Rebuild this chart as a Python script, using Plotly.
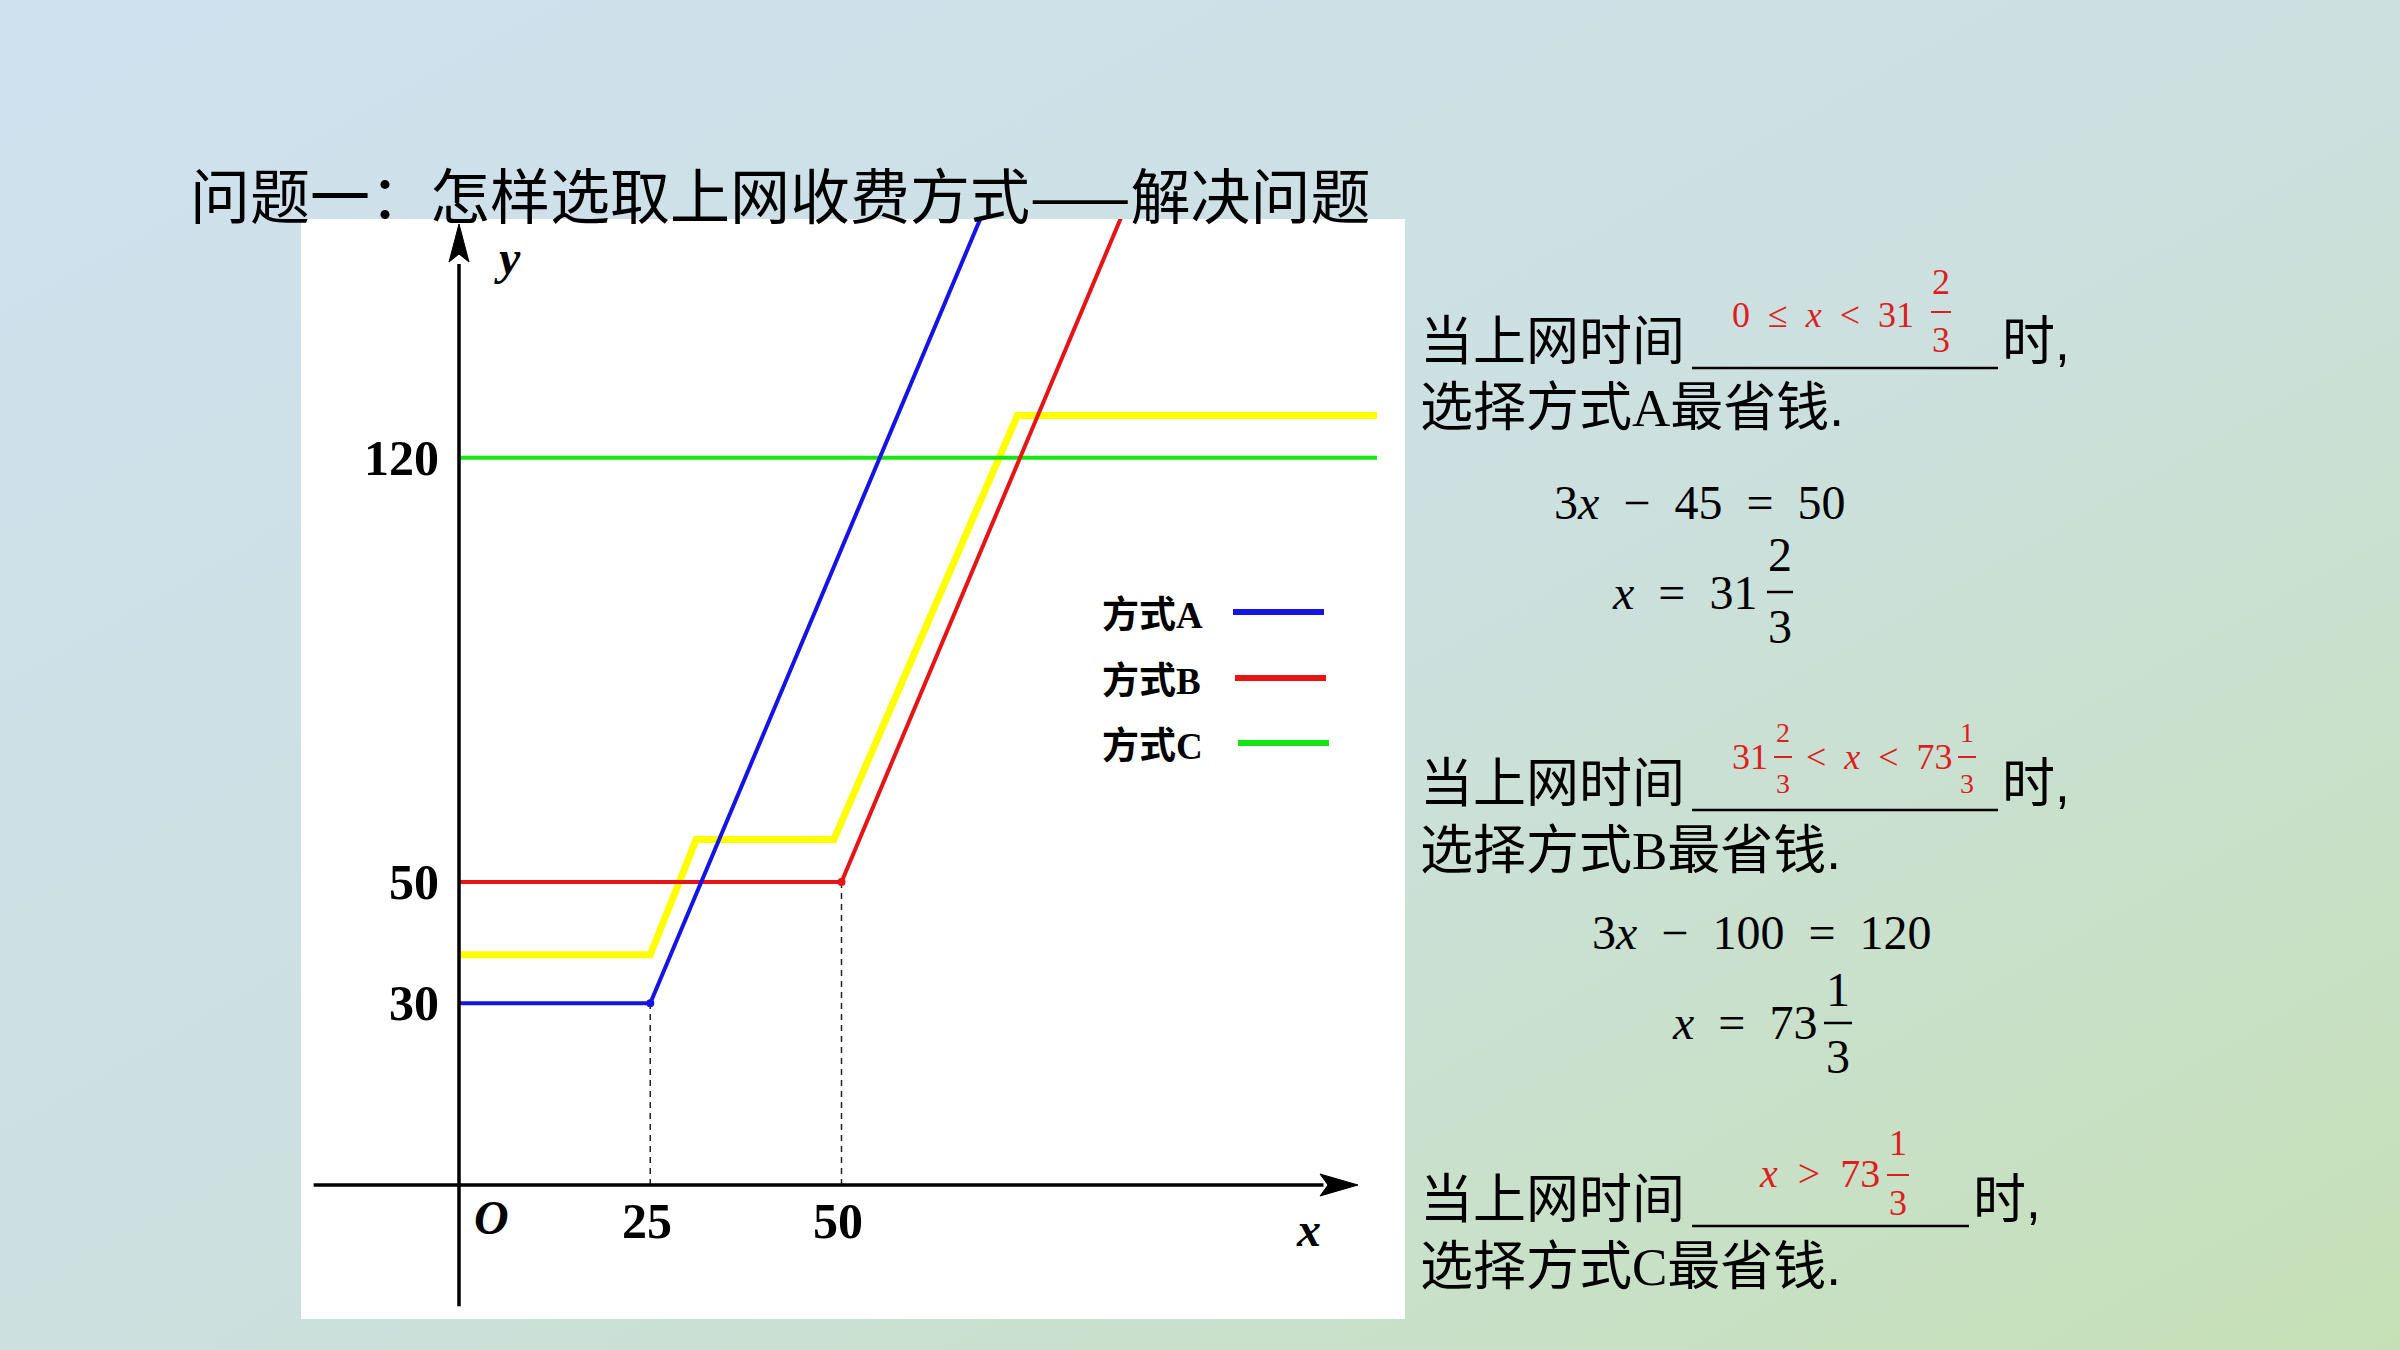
import base64
import plotly.graph_objects as go

W, H = 2400, 1350

# ---------------- data ----------------
tick_x = [25, 50]
tick_y = [30, 50, 120]
a_x = [0, 25, 70]
a_y = [30, 30, 165]
b_x = [0, 50, 90]
b_y = [50, 50, 170]
c_x = [0, 120]
c_y = [120, 120]
hl_x = [0, 25, 31, 49, 73, 120]
hl_y = [38, 38, 57, 57, 127, 127]
legend_names = ["方式A", "方式B", "方式C"]
legend_letters = ["A", "B", "C"]
series_colors = ["#1414e6", "#e61414", "#14e614"]
hl_color = "#ffff00"

# ---------------- geometry helpers ----------------
OX, OY = 459.0, 1185.0      # pixel of data origin
SX, SY = 7.65, 6.06         # pixels per data unit
PANEL = dict(l=301, r=1405, t=219, b=1319)


def px(x):
    return x / W


def py(y):
    return 1 - y / H


xr = [(PANEL["l"] - OX) / SX, (PANEL["r"] - OX) / SX]
yr = [(OY - PANEL["b"]) / SY, (OY - PANEL["t"]) / SY]

CJK = "Noto Sans CJK SC"
BODY = "Liberation Sans, Noto Sans CJK SC"
SERIF = "Liberation Serif"
RED = "#dc1e1e"

fig = go.Figure()

# highlight (lowest cost path)
fig.add_trace(go.Scatter(x=hl_x, y=hl_y, mode="lines",
                         line=dict(color=hl_color, width=7), hoverinfo="skip"))
# series C, B, A
for xs, ys, col in [(c_x, c_y, series_colors[2]), (b_x, b_y, series_colors[1]),
                    (a_x, a_y, series_colors[0])]:
    fig.add_trace(go.Scatter(x=xs, y=ys, mode="lines",
                             line=dict(color=col, width=4), hoverinfo="skip"))

# dashed drop lines
for xv, yv in [(tick_x[0], a_y[1]), (tick_x[1], b_y[1])]:
    fig.add_trace(go.Scatter(x=[xv, xv], y=[0, yv], mode="lines",
                             line=dict(color="#222", width=1.5, dash="6px,5px"),
                             hoverinfo="skip"))
# corner dots
fig.add_trace(go.Scatter(x=[a_x[1]], y=[a_y[1]], mode="markers",
                         marker=dict(color=series_colors[0], size=8), hoverinfo="skip"))
fig.add_trace(go.Scatter(x=[b_x[1]], y=[b_y[1]], mode="markers",
                         marker=dict(color=series_colors[1], size=8), hoverinfo="skip"))

# axes lines (through origin)
x_ax_lo, x_ax_hi = -19, 113
y_ax_lo, y_ax_hi = -20, 152
fig.add_trace(go.Scatter(x=[x_ax_lo, x_ax_hi], y=[0, 0], mode="lines",
                         line=dict(color="black", width=3.5), hoverinfo="skip"))
fig.add_trace(go.Scatter(x=[0, 0], y=[y_ax_lo, y_ax_hi], mode="lines",
                         line=dict(color="black", width=3.5), hoverinfo="skip"))

shapes = []
# white panel behind the chart
shapes.append(dict(type="rect", xref="paper", yref="paper", layer="below",
                   x0=px(PANEL["l"]), x1=px(PANEL["r"]), y0=py(PANEL["b"]), y1=py(PANEL["t"]),
                   fillcolor="white", line=dict(width=0)))
# arrowheads (pixel geometry -> paper)
tipx, tipy = 1358, OY
shapes.append(dict(type="path", xref="paper", yref="paper", layer="above",
                   path=f"M{px(tipx)},{py(tipy)} L{px(tipx-38)},{py(tipy-11)} L{px(tipx-30)},{py(tipy)} L{px(tipx-38)},{py(tipy+11)} Z",
                   fillcolor="black", line=dict(color="black", width=1)))
tipx, tipy = OX, 224
shapes.append(dict(type="path", xref="paper", yref="paper", layer="above",
                   path=f"M{px(tipx)},{py(tipy)} L{px(tipx-10)},{py(tipy+38)} L{px(tipx)},{py(tipy+30)} L{px(tipx+10)},{py(tipy+38)} Z",
                   fillcolor="black", line=dict(color="black", width=1)))

annotations = []


def txt(x, y, text, size, family=CJK, color="black", xanchor="left", yanchor="middle"):
    annotations.append(dict(x=px(x), y=py(y), xref="paper", yref="paper", text=text,
                            showarrow=False, xanchor=xanchor, yanchor=yanchor,
                            font=dict(size=size, family=family, color=color)))


def dtxt(x, y, text, size, family=SERIF, xanchor="center"):
    annotations.append(dict(x=x, y=y, xref="x", yref="y", text=text, showarrow=False,
                            xanchor=xanchor, yanchor="middle",
                            font=dict(size=size, family=family, color="black")))


def frac(xc, ybar, num, den, size, color, half, off_num, off_den, lw=2.5):
    txt(xc, ybar - off_num, num, size, SERIF, color, "center")
    txt(xc, ybar + off_den, den, size, SERIF, color, "center")
    shapes.append(dict(type="line", xref="paper", yref="paper",
                       x0=px(xc - half), x1=px(xc + half), y0=py(ybar), y1=py(ybar),
                       line=dict(color=color, width=lw)))


# tick labels in data coordinates
for v in tick_y:
    dtxt(-2.3, v, f"<b>{v}</b>", 50, xanchor="right")
for v in tick_x:
    dtxt(v - 0.4, -5.9, f"<b>{v}</b>", 50)
dtxt(4.3, -5.3, "<b><i>O</i></b>", 48)
dtxt(111.1, -7.4, "<b><i>x</i></b>", 48)
dtxt(6.4, 153, "<b><i>y</i></b>", 48)

# legend inside chart
leg_y = [612, 678, 743]
leg_x0 = [1233, 1235, 1238]
for name, let, col, yy, x0 in zip(legend_names, legend_letters, series_colors, leg_y, leg_x0):
    txt(1100, yy, f"<b>{name[:-1]}<span style='font-family:{SERIF}'>{let}</span></b>", 37)
    shapes.append(dict(type="line", xref="paper", yref="paper",
                       x0=px(x0), x1=px(x0 + 91), y0=py(yy), y1=py(yy),
                       line=dict(color=col, width=6)))

# title
txt(188, 192, "问题一：怎样选取上网收费方式——解决问题", 60)

# right-hand explanation blocks
blocks = [
    dict(y1=341, y2=408, letter="A", ul=(1692, 1998), shi=2000),
    dict(y1=783, y2=850, letter="B", ul=(1692, 1998), shi=2000),
    dict(y1=1199, y2=1266, letter="C", ul=(1692, 1969), shi=1971),
]
for bl in blocks:
    txt(1418, bl["y1"], "当上网时间", 53, BODY)
    txt(bl["shi"], bl["y1"], "时,", 53, BODY)
    txt(1418, bl["y2"], f"选择方式<span style='font-family:{SERIF}'>{bl['letter']}</span>最省钱.", 53, BODY)
    shapes.append(dict(type="line", xref="paper", yref="paper",
                       x0=px(bl["ul"][0]), x1=px(bl["ul"][1]),
                       y0=py(bl["y1"] + 27), y1=py(bl["y1"] + 27),
                       line=dict(color="black", width=2.5)))

sp = "\u2002"
# block A red answer
txt(1730, 315, f"0{sp}≤{sp}<i>x</i>{sp}<{sp}31", 36, SERIF, RED)
frac(1941, 312, "2", "3", 36, RED, 10, 30, 28, 2)
# block A math
txt(1699, 502, f"3<i>x</i>{sp}−{sp}45{sp}={sp}50", 48, SERIF, "black", "center")
txt(1610, 592, f"<i>x</i>{sp}={sp}31", 48, SERIF, "black", "left")
frac(1780, 592, "2", "3", 48, "black", 13, 38, 34)

# block B red answer
txt(1730, 757, "31", 36, SERIF, RED)
frac(1783, 757, "2", "3", 28, RED, 9, 25, 26, 2)
txt(1804, 757, f"<{sp}<i>x</i>{sp}<{sp}73", 36, SERIF, RED)
frac(1967, 757, "1", "3", 28, RED, 9, 25, 26, 2)
# block B math
txt(1761, 932, f"3<i>x</i>{sp}−{sp}100{sp}={sp}120", 48, SERIF, "black", "center")
txt(1670, 1022, f"<i>x</i>{sp}={sp}73", 48, SERIF, "black", "left")
frac(1838, 1023, "1", "3", 48, "black", 14, 34, 33)

# block C red answer
txt(1757, 1173, f"<i>x</i>{sp}>{sp}73", 40, SERIF, RED)
frac(1898, 1175, "1", "3", 36, RED, 11, 32, 28, 2)

# gradient background
svg = (f'<svg xmlns="http://www.w3.org/2000/svg" width="{W}" height="{H}" '
       f'viewBox="0 0 {W} {H}" preserveAspectRatio="none"><defs>'
       '<linearGradient id="g" x1="0" y1="0" x2="1" y2="1">'
       '<stop offset="0" stop-color="#cfe1ef"/><stop offset="0.5" stop-color="#cce0e0"/>'
       '<stop offset="1" stop-color="#c6e0b6"/></linearGradient></defs>'
       f'<rect width="{W}" height="{H}" fill="url(#g)"/></svg>')
src = "data:image/svg+xml;base64," + base64.b64encode(svg.encode()).decode()

fig.update_layout(
    width=W, height=H, autosize=False,
    margin=dict(l=0, r=0, t=0, b=0, pad=0),
    paper_bgcolor="#cde0e4", plot_bgcolor="white",
    showlegend=False,
    xaxis=dict(domain=[px(PANEL["l"]), px(PANEL["r"])], range=xr, visible=False, fixedrange=True),
    yaxis=dict(domain=[py(PANEL["b"]), py(PANEL["t"])], range=yr, visible=False, fixedrange=True),
    images=[dict(source=src, xref="paper", yref="paper", x=0, y=1, sizex=1, sizey=1,
                 sizing="stretch", xanchor="left", yanchor="top", layer="below")],
    shapes=shapes,
    annotations=annotations,
)

fig.write_html("out.html")
